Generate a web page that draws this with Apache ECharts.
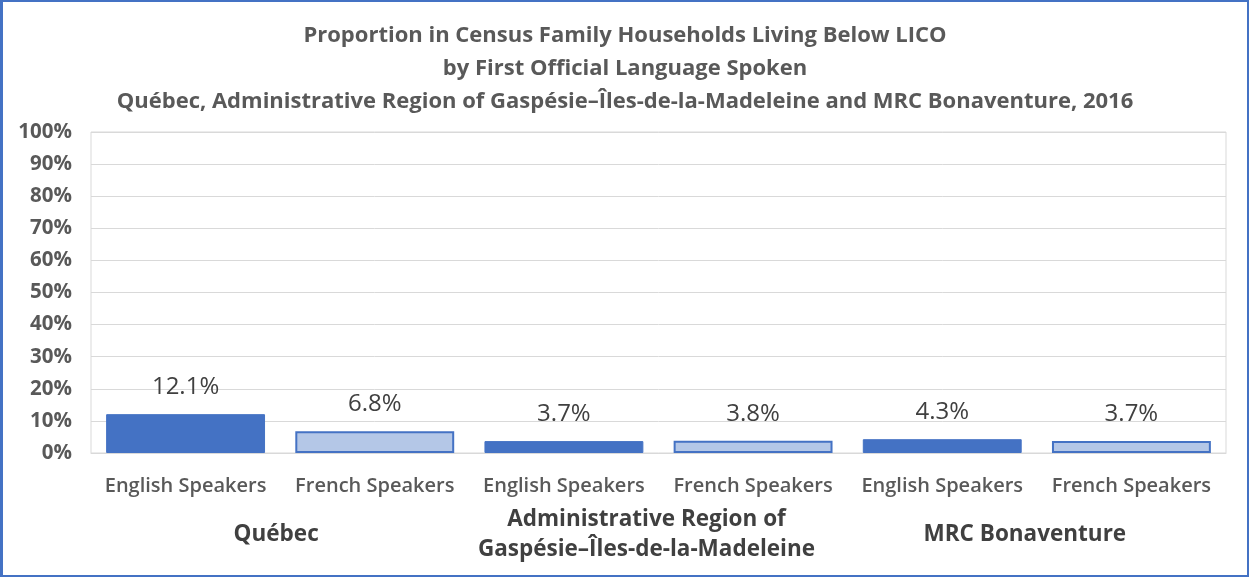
<!DOCTYPE html>
<html><head><meta charset="utf-8">
<script src="https://cdn.jsdelivr.net/npm/echarts@6/dist/echarts.min.js"></script>
<style>html,body{margin:0;padding:0;background:#fff}#c{width:1249px;height:577px;box-sizing:border-box;border:2px solid #4472C4;border-left-width:3px}</style>
</head><body><div id="c"></div>
<script>
const titleLines = ["Proportion in Census Family Households Living Below LICO","by First Official Language Spoken","Québec, Administrative Region of Gaspésie–Îles-de-la-Madeleine and MRC Bonaventure, 2016"];
const categories = ["English Speakers","French Speakers","English Speakers","French Speakers","English Speakers","French Speakers"];
const groups = ["Québec","Administrative Region of\nGaspésie–Îles-de-la-Madeleine","MRC Bonaventure"];
const values = [12.1, 6.8, 3.7, 3.8, 4.3, 3.7];
const yTicks = [0,10,20,30,40,50,60,70,80,90,100];

const FONT = "Open Sans";
const groupShift = [8, 24, 24];
const groupLabelStyle = {color:'#404040',fontSize:22.5,fontWeight:'bold',fontFamily:FONT,verticalAlign:'middle',lineHeight:30};
const chart = echarts.init(document.getElementById('c'));
chart.setOption({
  animation:false,
  textStyle:{fontFamily:FONT},
  title:{text:titleLines.join('\n'),left:'center',top:12,textStyle:{fontFamily:FONT,fontSize:22,fontWeight:'bold',color:'#595959',lineHeight:33}},
  grid:{left:88,right:21,top:130,bottom:122,show:true,borderColor:'#D9D9D9',borderWidth:1,containLabel:false,outerBoundsMode:'none'},
  xAxis:[{type:'category',data:categories,position:'bottom',
    axisLine:{lineStyle:{color:'#D9D9D9'}},axisTick:{show:false},
    axisLabel:{color:'#595959',fontSize:20,fontWeight:600,margin:23,interval:0}},
   {type:'category',data:groups.map((g,i)=>({value:g,textStyle:Object.assign({padding:[0,groupShift[i],0,0]},groupLabelStyle)})),position:'bottom',
    axisLine:{show:false},axisTick:{show:false},
    axisLabel:Object.assign({margin:82,interval:0},groupLabelStyle)}],
  yAxis:{type:'value',min:0,max:100,interval:10,
    axisLabel:{formatter:v=>v+'%',color:'#595959',fontSize:20.5,fontWeight:'bold',margin:19},
    axisLine:{show:false},axisTick:{show:false},
    splitLine:{lineStyle:{color:'#D9D9D9'}}},
  series:[{type:'bar',xAxisIndex:0,barCategoryGap:'16%',
    data:values.map((v,i)=>({value:v,itemStyle:i%2===0?{color:'#4472C4',borderColor:'#4472C4',borderWidth:1}:{color:'#B4C7E7',borderColor:'#4472C4',borderWidth:2}})),
    label:{show:true,position:'top',distance:15,formatter:p=>p.value.toFixed(1)+'%',color:'#404040',fontSize:24,fontFamily:FONT}}]
});
</script></body></html>
